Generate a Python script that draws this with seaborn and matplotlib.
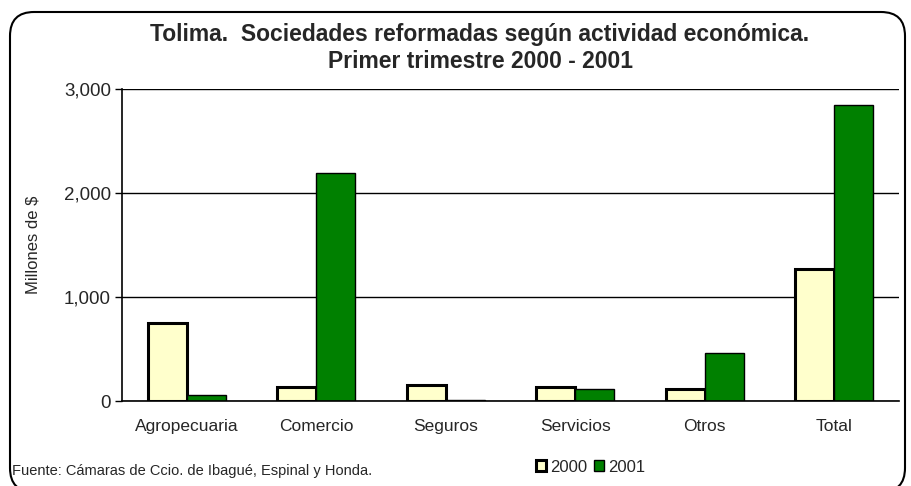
import pandas as pd
import matplotlib.pyplot as plt
import seaborn as sns
from matplotlib.patches import FancyBboxPatch, Patch
from matplotlib.ticker import FuncFormatter, FixedLocator

# --- data (millones de $) ---
categories = ['Agropecuaria', 'Comercio', 'Seguros', 'Servicios', 'Otros', 'Total']
values_2000 = [750, 130, 150, 135, 120, 1265]
values_2001 = [55, 2195, 5, 115, 460, 2845]
years = ['2000', '2001']

df = pd.DataFrame({
    'actividad': categories * 2,
    'anio': [years[0]] * len(categories) + [years[1]] * len(categories),
    'valor': values_2000 + values_2001,
})

sns.set_style('white')
plt.rcParams['font.family'] = ['Liberation Sans', 'DejaVu Sans']

fig = plt.figure(figsize=(9.11, 4.86), dpi=100)
ax = fig.add_axes([122 / 911, 85 / 486, 777 / 911, 312 / 486])

colors = {'2000': '#FFFFCC', '2001': '#008000'}
sns.barplot(data=df, x='actividad', y='valor', hue='anio', order=categories,
            hue_order=years, palette=colors, width=0.6, edgecolor='black',
            saturation=1, legend=False, ax=ax)

# thicker outline on the 2000 bars, thin on the 2001 bars
for cont, lw in zip(ax.containers, [2.2, 1.0]):
    for bar in cont:
        bar.set_linewidth(lw)

ax.set_xlim(-0.5, len(categories) - 0.5)
ax.set_ylim(0, 3000)
ax.set_yticks([0, 1000, 2000, 3000])
ax.yaxis.set_major_formatter(FuncFormatter(lambda v, p: f'{v:,.0f}'))
ax.yaxis.grid(True, color='black', linewidth=1)
ax.set_axisbelow(True)

# category labels centred, tick marks between categories
ax.tick_params(axis='x', which='major', length=0, labelsize=12.5, pad=13)
ax.xaxis.set_minor_locator(FixedLocator([i - 0.5 for i in range(len(categories) + 1)]))
ax.tick_params(axis='x', which='minor', length=5, width=1, color='black', direction='out')
ax.tick_params(axis='y', length=5, width=1, color='black', direction='out', labelsize=13.5, pad=3,
               left=True)

for side in ['top', 'right']:
    ax.spines[side].set_visible(False)
for side in ['left', 'bottom']:
    ax.spines[side].set_color('black')
    ax.spines[side].set_linewidth(1.2)

ax.set_xlabel('')
ax.set_ylabel('Millones de $', fontsize=12, labelpad=17)

# titles
fig.text(480 / 911, 1 - 35 / 486, 'Tolima.  Sociedades reformadas según actividad económica.',
         ha='center', va='center', fontsize=16.5, fontweight='bold')
fig.text(480 / 911, 1 - 62 / 486, 'Primer trimestre 2000 - 2001',
         ha='center', va='center', fontsize=16.5, fontweight='bold')

# footnote
fig.text(12 / 911, 1 - 471 / 486, 'Fuente: Cámaras de Ccio. de Ibagué, Espinal y Honda.',
         ha='left', va='center', fontsize=10.5)

# legend
handles = [Patch(facecolor=colors[y], edgecolor='black', linewidth=2.2 if y == '2000' else 1.0, label=y)
           for y in years]
fig.legend(handles=handles, loc='center left', bbox_to_anchor=(536 / 911, 1 - 467 / 486),
           ncol=2, frameon=False, fontsize=12, handlelength=0.6, handleheight=0.6,
           handletextpad=0.25, columnspacing=0.4, borderaxespad=0, borderpad=0)

# rounded outer frame
frame = FancyBboxPatch((10, -6), 895, 480, boxstyle='round,pad=0,rounding_size=24',
                       transform=None, facecolor='none', edgecolor='black', linewidth=1.5)
fig.patches.append(frame)

plt.savefig('out.png', dpi=100)
